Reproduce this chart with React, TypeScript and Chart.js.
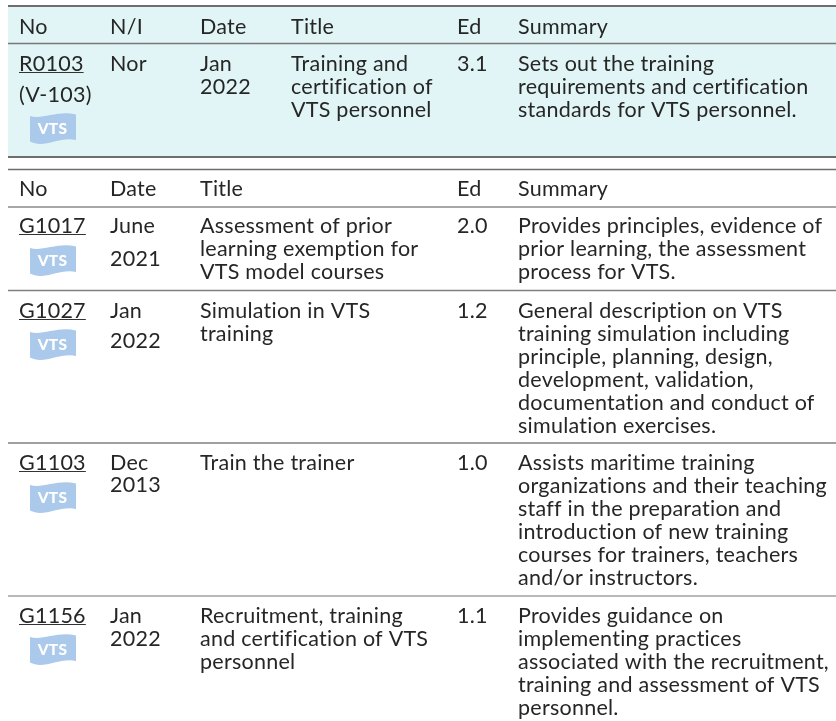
import React, { useEffect, useRef } from "react";
import { Chart, registerables } from "chart.js";

Chart.register(...registerables);

// ---- table content ----
const headersA = ["No", "N/I", "Date", "Title", "Ed", "Summary"];
const headersB = ["No", "Date", "Title", "Ed", "Summary"];

const numbers = ["R0103", "G1017", "G1027", "G1103", "G1156"];
const altNumber = "(V-103)";
const natureIntl = "Nor";
const flagLabel = "VTS";
const dates = [
  ["Jan", "2022"],
  ["June", "2021"],
  ["Jan", "2022"],
  ["Dec", "2013"],
  ["Jan", "2022"],
];
const titles = [
  ["Training and", "certification of", "VTS personnel"],
  ["Assessment of prior", "learning exemption for", "VTS model courses"],
  ["Simulation in VTS", "training"],
  ["Train the trainer"],
  ["Recruitment, training", "and certification of VTS", "personnel"],
];
const editions = ["3.1", "2.0", "1.2", "1.0", "1.1"];
const summaries = [
  ["Sets out the training", "requirements and certification", "standards for VTS personnel."],
  ["Provides principles, evidence of", "prior learning, the assessment", "process for VTS."],
  [
    "General description on VTS",
    "training simulation including",
    "principle, planning, design,",
    "development, validation,",
    "documentation and conduct of",
    "simulation exercises.",
  ],
  [
    "Assists maritime training",
    "organizations and their teaching",
    "staff in the preparation and",
    "introduction of new training",
    "courses for trainers, teachers",
    "and/or instructors.",
  ],
  [
    "Provides guidance on",
    "implementing practices",
    "associated with the recruitment,",
    "training and assessment of VTS",
    "personnel.",
  ],
];

// ---- layout (in axis units, 1 unit = 1 px) ----
const W = 836;
const H = 721;
const LEFT = 8;
const colsA = [19, 110, 200, 291, 457, 518];
const colsB = [19, 110, 200, 457, 518];
const PITCH = 23;
const headerBaseA = 34;
const headerBaseB = 196;
const rowBase = [71, 233, 318, 470, 623];
const datePitch = [23, 33, 30, 22, 23];
const flagTop = [113, 245, 329, 482, 634];
const rules = [
  { y: 6, w: 2, c: "#6e6e6e" },
  { y: 43.5, w: 1.5, c: "#777777" },
  { y: 157, w: 2, c: "#6e6e6e" },
  { y: 169.5, w: 1.5, c: "#6e6e6e" },
  { y: 207, w: 1.5, c: "#8a8a8a" },
  { y: 290.5, w: 1.5, c: "#808080" },
  { y: 443, w: 1.5, c: "#808080" },
  { y: 596, w: 1.5, c: "#a0a0a0" },
];

const FONT = '21.5px "Lato", sans-serif';
const TEXT = "#262626";

const tablePlugin = {
  id: "tablePlugin",
  beforeDatasetsDraw(chart: any) {
    const { ctx, scales } = chart;
    const X = (v: number) => scales.x.getPixelForValue(v);
    const Y = (v: number) => scales.y.getPixelForValue(v);
    ctx.save();
    ctx.fillStyle = "#e2f5f6";
    ctx.fillRect(X(LEFT), Y(6), X(W) - X(LEFT), Y(157) - Y(6));
    ctx.restore();
  },
  afterDatasetsDraw(chart: any) {
    const { ctx, scales } = chart;
    const X = (v: number) => scales.x.getPixelForValue(v);
    const Y = (v: number) => scales.y.getPixelForValue(v);
    ctx.save();
    ctx.font = FONT;
    ctx.fillStyle = TEXT;
    ctx.textBaseline = "alphabetic";
    ctx.textAlign = "left";
    if ("letterSpacing" in ctx) ctx.letterSpacing = "0.25px";

    const lines = (x: number, base: number, arr: string[], pitch = PITCH) =>
      arr.forEach((s, i) => ctx.fillText(s, X(x), Y(base + i * pitch)));

    const link = (x: number, base: number, s: string) => {
      ctx.fillText(s, X(x), Y(base));
      const w = ctx.measureText(s).width;
      ctx.strokeStyle = "#333333";
      ctx.lineWidth = 1;
      ctx.beginPath();
      ctx.moveTo(X(x), Y(base + 1) + 0.5);
      ctx.lineTo(X(x) + w, Y(base + 1) + 0.5);
      ctx.stroke();
    };

    const flag = (top: number) => {
      const fx = (v: number) => X(30 + v);
      const fy = (v: number) => Y(top + v);
      ctx.fillStyle = "#abc9ea";
      ctx.beginPath();
      ctx.moveTo(fx(0), fy(3));
      ctx.bezierCurveTo(fx(12), fy(7), fx(28), fy(-3), fx(46), fy(1.5));
      ctx.lineTo(fx(46), fy(27));
      ctx.bezierCurveTo(fx(30), fy(23), fx(14), fy(36), fx(0), fy(28.5));
      ctx.closePath();
      ctx.fill();
      ctx.fillStyle = "#ffffff";
      ctx.font = '900 15.5px "Lato", sans-serif';
      ctx.textAlign = "center";
      ctx.fillText(flagLabel, fx(22.5), fy(20.5));
      ctx.textAlign = "left";
      ctx.font = FONT;
      ctx.fillStyle = TEXT;
    };

    headersA.forEach((h, i) => lines(colsA[i], headerBaseA, [h]));
    headersB.forEach((h, i) => lines(colsB[i], headerBaseB, [h]));

    numbers.forEach((n, r) => {
      const cols = r === 0 ? colsA : [colsB[0], 0, colsB[1], colsB[2], colsB[3], colsB[4]];
      const base = rowBase[r];
      link(cols[0], base, n);
      if (r === 0) {
        lines(cols[0], 102, [altNumber]);
        lines(cols[1], base, [natureIntl]);
      }
      flag(flagTop[r]);
      lines(cols[2], base, dates[r], datePitch[r]);
      lines(cols[3], base, titles[r]);
      lines(cols[4], base, [editions[r]]);
      lines(cols[5], base, summaries[r]);
    });
    ctx.restore();
  },
};

export default function App() {
  const ref = useRef<HTMLCanvasElement>(null);
  useEffect(() => {
    document.body.style.margin = "0";
    const chart = new Chart(ref.current as HTMLCanvasElement, {
      type: "scatter",
      data: {
        datasets: rules.map((r) => ({
          data: [
            { x: LEFT, y: r.y },
            { x: W, y: r.y },
          ],
          showLine: true,
          borderColor: r.c,
          borderWidth: r.w,
          pointRadius: 0,
        })),
      },
      options: {
        animation: false,
        responsive: false,
        layout: { padding: 0 },
        plugins: { legend: { display: false }, tooltip: { enabled: false } },
        scales: {
          x: { type: "linear", display: false, min: 0, max: W },
          y: { type: "linear", display: false, min: 0, max: H, reverse: true },
        },
      },
      plugins: [tablePlugin],
    } as any);
    return () => chart.destroy();
  }, []);
  return (
    <canvas
      ref={ref}
      width={W}
      height={H}
      style={{ display: "block", position: "absolute", left: 0, top: 0 }}
    />
  );
}
